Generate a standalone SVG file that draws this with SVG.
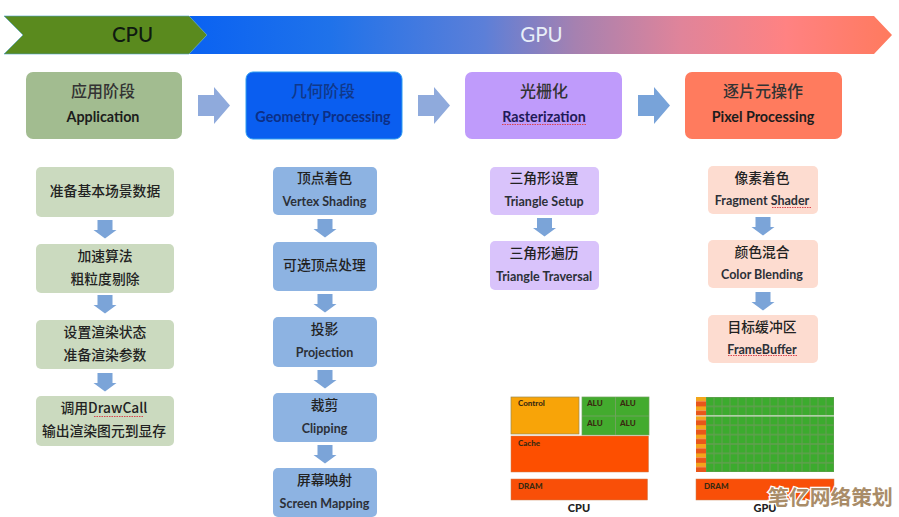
<svg xmlns="http://www.w3.org/2000/svg" width="899" height="517" viewBox="0 0 899 517">
<style>
text{text-anchor:middle;font-family:"Lato","Noto Sans CJK SC",sans-serif;fill:#222}
.zh{font-family:"Noto Sans CJK SC",sans-serif;font-size:13.800px;font-weight:500}
.zhb{font-family:"Noto Sans CJK SC",sans-serif;font-size:16px;font-weight:500;fill:#333}
.en{font-size:12.500px;font-weight:700;fill:#2c3038}
.enb{font-size:14.300px;font-weight:700;fill:#1c1c1c}
.chip{font-size:8px;font-weight:900;text-anchor:start;fill:#3a2a10}
.lab{font-size:11px;font-weight:900;fill:#222}
.wav{fill:none;stroke:#d8444f;stroke-width:1;stroke-dasharray:1.5 1}
.s1{fill:#cbdabf}.s2{fill:#8db3e2}.s3{fill:#d9c3fb}.s4{fill:#fddcd0}
.ma{fill:#8faadc}.sa{fill:#7ba4d8}
.edge{stroke:#9a8a50;stroke-width:.7}
</style>
<defs>
<linearGradient id="gpuGrad" gradientUnits="userSpaceOnUse" x1="189" y1="0" x2="892" y2="0">
<stop offset="0" stop-color="#0a62f2"/><stop offset=".2" stop-color="#1f72ea"/><stop offset=".42" stop-color="#5c7fd8"/><stop offset=".55" stop-color="#a681b0"/><stop offset=".7" stop-color="#e0849a"/><stop offset=".85" stop-color="#ff8282"/><stop offset="1" stop-color="#ff7a5e"/>
</linearGradient>
<pattern id="cell" patternUnits="userSpaceOnUse" x="706" y="397" width="8" height="9.4">
<rect width="8" height="9.4" fill="#5f9f4e"/><rect x=".6" y=".8" width="6.800" height="7.800" fill="#3cab2e"/>
</pattern>
<pattern id="core" patternUnits="userSpaceOnUse" x="696" y="397" width="10" height="9.4">
<rect width="10" height="4.200" fill="#f2a51a"/><rect y="4.200" width="10" height="5.200" fill="#e8561a"/>
</pattern>
<path id="bigArrow" d="M0 8H16V0L32 18.500L16 37V29H0Z"/>
<path id="smallArrow" d="M4 0H19V10H23L11.500 18.500L0 10H4Z"/>
</defs>
<rect width="899" height="517" fill="#fff"/>

<g id="banner-gpu">
<path d="M189 16H874L892 35L874 54H189L207 35Z" fill="url(#gpuGrad)"/>
<text x="541.500" y="41.500" font-size="20.500" style="fill:#e8eef8">GPU</text>
</g>
<g id="banner-cpu">
<path d="M4 16H189L207 35L189 54H4L23 35Z" fill="#5a8a1e" stroke="#4aa0c8" stroke-width=".6"/>
<text x="132.500" y="41.500" font-size="20.500" font-weight="500" style="fill:#0f1a10">CPU</text>
</g>

<g id="connectors">
<use href="#bigArrow" x="198" y="87" class="ma"/>
<use href="#bigArrow" x="418" y="87" class="ma"/>
<use href="#bigArrow" x="638" y="87" fill="#78a3d9"/>
<use href="#smallArrow" x="93.500" y="220" class="sa"/>
<use href="#smallArrow" x="93.500" y="295" class="sa"/>
<use href="#smallArrow" x="93.500" y="373" class="sa"/>
<use href="#smallArrow" x="313.500" y="219" class="sa"/>
<use href="#smallArrow" x="313.500" y="294" class="sa"/>
<use href="#smallArrow" x="313.500" y="370" class="sa"/>
<use href="#smallArrow" x="313.500" y="445" class="sa"/>
<use href="#smallArrow" x="533" y="218" class="sa"/>
<use href="#smallArrow" x="751.500" y="217" class="sa"/>
<use href="#smallArrow" x="751.500" y="292" class="sa"/>
</g>

<g id="stage-application"><rect x="26" y="72" width="156" height="67" rx="7" fill="#a2bc90"/>
<text class="zhb" x="103" y="97">应用阶段</text><text class="enb" x="103" y="122">Application</text></g>
<g id="stage-geometry"><rect x="246" y="72" width="156" height="67" rx="7" fill="#0a5ef0" stroke="#2c9cf0" stroke-width="1"/>
<text class="zhb" x="323" y="97" style="fill:#10388a">几何阶段</text><text class="enb" x="323" y="122" style="fill:#0c2f86">Geometry Processing</text></g>
<g id="stage-raster"><rect x="465" y="72" width="157" height="67" rx="7" fill="#bf9bfb"/>
<text class="zhb" x="544" y="97">光栅化</text><text class="enb" x="544" y="122" style="fill:#1f1a58">Rasterization</text>
<path class="wav" d="M502 124.500H586"/></g>
<g id="stage-pixel"><rect x="685" y="72" width="157" height="67" rx="7" fill="#ff7b5e"/>
<text class="zhb" x="763" y="97">逐片元操作</text><text class="enb" x="763" y="122">Pixel Processing</text></g>

<g id="app-1"><rect class="s1" x="36" y="167" width="138" height="50" rx="5"/><text class="zh" x="105" y="196">准备基本场景数据</text></g>
<g id="app-2"><rect class="s1" x="36" y="244" width="138" height="49" rx="5"/><text class="zh" x="105" y="261">加速算法</text><text class="zh" x="105" y="284">粗粒度剔除</text></g>
<g id="app-3"><rect class="s1" x="36" y="320" width="138" height="49" rx="5"/><text class="zh" x="105" y="337">设置渲染状态</text><text class="zh" x="105" y="360">准备渲染参数</text></g>
<g id="app-4"><rect class="s1" x="36" y="396" width="138" height="50" rx="5"/><text class="zh" x="104" y="413">调用DrawCall</text><text class="zh" x="104" y="436">输出渲染图元到显存</text>
<path class="wav" d="M94 416.500H144"/></g>

<g id="geo-1"><rect class="s2" x="273" y="167" width="104" height="48" rx="5"/><text class="zh" x="324.500" y="183">顶点着色</text><text class="en" x="324.500" y="206">Vertex Shading</text></g>
<g id="geo-2"><rect class="s2" x="273" y="242" width="104" height="49" rx="5"/><text class="zh" x="324.500" y="270">可选顶点处理</text></g>
<g id="geo-3"><rect class="s2" x="273" y="317" width="104" height="50" rx="5"/><text class="zh" x="324.500" y="334">投影</text><text class="en" x="324.500" y="357">Projection</text></g>
<g id="geo-4"><rect class="s2" x="273" y="393" width="104" height="49" rx="5"/><text class="zh" x="324.500" y="410">裁剪</text><text class="en" x="324.500" y="433">Clipping</text></g>
<g id="geo-5"><rect class="s2" x="273" y="468" width="104" height="49" rx="5"/><text class="zh" x="324.500" y="485">屏幕映射</text><text class="en" x="324.500" y="508">Screen Mapping</text></g>

<g id="ras-1"><rect class="s3" x="490" y="167" width="109" height="48" rx="5"/><text class="zh" x="544" y="183">三角形设置</text><text class="en" x="544" y="206">Triangle Setup</text></g>
<g id="ras-2"><rect class="s3" x="490" y="241" width="109" height="49" rx="5"/><text class="zh" x="544" y="258">三角形遍历</text><text class="en" x="544" y="281">Triangle Traversal</text></g>

<g id="pix-1"><rect class="s4" x="708" y="166" width="110" height="48" rx="5"/><text class="zh" x="762" y="183">像素着色</text><text class="en" x="762" y="205">Fragment Shader</text>
<path class="wav" d="M772 207.500H812"/></g>
<g id="pix-2"><rect class="s4" x="708" y="240" width="110" height="48" rx="5"/><text class="zh" x="762" y="257">颜色混合</text><text class="en" x="762" y="279">Color Blending</text></g>
<g id="pix-3"><rect class="s4" x="708" y="315" width="110" height="48" rx="5"/><text class="zh" x="762" y="332">目标缓冲区</text><text class="en" x="762" y="354">FrameBuffer</text>
<path class="wav" d="M728 355.500H798"/></g>

<g id="chip-cpu">
<rect class="edge" x="511" y="397" width="68" height="37" fill="#f8a408"/>
<rect x="582" y="397" width="67" height="38" fill="#43ab2e" stroke="#6fa35c" stroke-width=".7"/>
<path d="M615.500 397V435M582 416H649" stroke="#6fa35c" stroke-width="1" fill="none"/>
<rect x="511" y="436" width="137.500" height="36" fill="#fd4f00" stroke="#c98050" stroke-width=".5"/>
<rect x="511" y="479" width="136.500" height="21" fill="#f94f08" stroke="#c98050" stroke-width=".5"/>
<text class="chip" x="518" y="406">Control</text>
<text class="chip" x="587" y="406">ALU</text><text class="chip" x="620" y="406">ALU</text>
<text class="chip" x="587" y="426">ALU</text><text class="chip" x="620" y="426">ALU</text>
<text class="chip" x="518" y="446">Cache</text>
<text class="chip" x="518" y="489">DRAM</text>
<text class="lab" x="579" y="512">CPU</text>
</g>
<g id="chip-gpu">
<rect x="696" y="397" width="10" height="75" fill="url(#core)"/>
<rect x="706" y="397" width="128" height="75" fill="url(#cell)"/>
<rect x="696" y="415.400" width="138" height="1" fill="#e8f0e4"/>
<rect x="696" y="479" width="138" height="21" fill="#f94f08" stroke="#c98050" stroke-width=".5"/>
<text class="chip" x="704" y="489">DRAM</text>
<text class="lab" x="765" y="512">GPU</text>
</g>
<g id="watermark">
<text x="830.500" y="505" font-size="20.800" font-weight="700" style="font-family:'Noto Sans CJK SC',sans-serif;fill:#a98c68;stroke:#fff;stroke-width:2.500px;paint-order:stroke">笔亿网络策划</text>
</g>
</svg>
